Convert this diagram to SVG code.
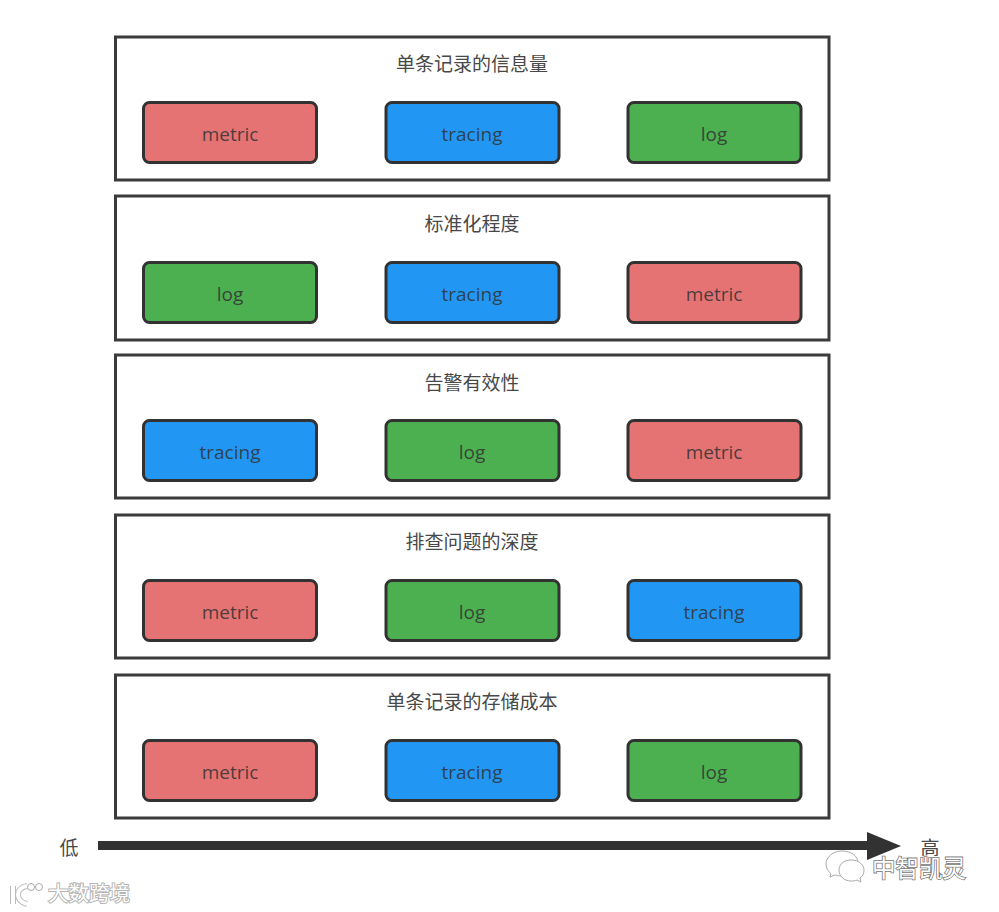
<svg xmlns="http://www.w3.org/2000/svg" width="999" height="912" viewBox="0 0 999 912">
<style>
text{font-family:"Open Sans","Noto Sans CJK SC",sans-serif;text-anchor:middle}
.panel{fill:#fff;stroke:#3b3b3b;stroke-width:3}
.box{stroke:#323232;stroke-width:3}
.m{fill:#e57373}.t{fill:#2196f3}.l{fill:#4caf50}
.lbl{font-size:19px;fill:#323232;fill-opacity:.85}
.ttl{font-family:"Noto Sans CJK SC",sans-serif;font-size:19px;fill:#484848}
.wm{font-family:"Noto Sans CJK SC",sans-serif;fill:#fff;stroke:#b4b4b4;stroke-width:2;paint-order:stroke}
.wr{font-family:"Noto Sans CJK SC",sans-serif;fill:#fff;stroke:#777;stroke-width:1.600;paint-order:stroke}
.wi{fill:#fff;stroke:#aaa;stroke-width:1}
</style>
<defs>
<rect id="b" width="173" height="60" rx="6" ry="6"/>
</defs>
<g id="row1">
<rect class="panel" x="115.500" y="37" width="713.500" height="143"/>
<text class="ttl" x="472" y="71">单条记录的信息量</text>
<g id="row1-metric"><use href="#b" x="143.500" y="102.500" class="box m"/><text class="lbl" x="230" y="141">metric</text></g>
<g id="row1-tracing"><use href="#b" x="386" y="102.500" class="box t"/><text class="lbl" x="472" y="141">tracing</text></g>
<g id="row1-log"><use href="#b" x="628" y="102.500" class="box l"/><text class="lbl" x="714" y="141">log</text></g>
</g>
<g id="row2">
<rect class="panel" x="115.500" y="196" width="713.500" height="144"/>
<text class="ttl" x="472" y="231">标准化程度</text>
<g id="row2-log"><use href="#b" x="143.500" y="262.500" class="box l"/><text class="lbl" x="230" y="301">log</text></g>
<g id="row2-tracing"><use href="#b" x="386" y="262.500" class="box t"/><text class="lbl" x="472" y="301">tracing</text></g>
<g id="row2-metric"><use href="#b" x="628" y="262.500" class="box m"/><text class="lbl" x="714" y="301">metric</text></g>
</g>
<g id="row3">
<rect class="panel" x="115.500" y="355" width="713.500" height="143"/>
<text class="ttl" x="472" y="390">告警有效性</text>
<g id="row3-tracing"><use href="#b" x="143.500" y="420.500" class="box t"/><text class="lbl" x="230" y="459">tracing</text></g>
<g id="row3-log"><use href="#b" x="386" y="420.500" class="box l"/><text class="lbl" x="472" y="459">log</text></g>
<g id="row3-metric"><use href="#b" x="628" y="420.500" class="box m"/><text class="lbl" x="714" y="459">metric</text></g>
</g>
<g id="row4">
<rect class="panel" x="115.500" y="515" width="713.500" height="143"/>
<text class="ttl" x="472" y="549">排查问题的深度</text>
<g id="row4-metric"><use href="#b" x="143.500" y="580.500" class="box m"/><text class="lbl" x="230" y="619">metric</text></g>
<g id="row4-log"><use href="#b" x="386" y="580.500" class="box l"/><text class="lbl" x="472" y="619">log</text></g>
<g id="row4-tracing"><use href="#b" x="628" y="580.500" class="box t"/><text class="lbl" x="714" y="619">tracing</text></g>
</g>
<g id="row5">
<rect class="panel" x="115.500" y="675" width="713.500" height="143"/>
<text class="ttl" x="472" y="709">单条记录的存储成本</text>
<g id="row5-metric"><use href="#b" x="143.500" y="740.500" class="box m"/><text class="lbl" x="230" y="779">metric</text></g>
<g id="row5-tracing"><use href="#b" x="386" y="740.500" class="box t"/><text class="lbl" x="472" y="779">tracing</text></g>
<g id="row5-log"><use href="#b" x="628" y="740.500" class="box l"/><text class="lbl" x="714" y="779">log</text></g>
</g>
<g id="connectors">
<rect x="98" y="841" width="772" height="9" fill="#323232"/>
<polygon points="867,832 901,846 867,860" fill="#323232"/>
</g>
<g id="axis-low"><text class="ttl" x="69" y="855">低</text></g>
<g id="axis-high"><text class="ttl" x="930" y="855">高</text></g>
<g id="watermark-left">
<path d="M13 886V904M27 886C15 888 15 901 27 904" fill="none" stroke="#bbb" stroke-width="6"/>
<path d="M13 886V904M27 886C15 888 15 901 27 904" fill="none" stroke="#fff" stroke-width="4"/>
<circle class="wi" cx="31" cy="887" r="3.500"/><circle class="wi" cx="39" cy="887" r="3.500"/>
<text class="wm" x="89" y="901" font-size="20.500">大数跨境</text>
</g>
<g id="watermark-right">
<path class="wi" d="M842 851C833 851 826 857 826 864C826 868 828 871 831 874L830 877L835 875C838 876 841 876 844 876C854 876 858 869 858 863C858 856 851 851 842 851Z"/>
<path class="wi" d="M851 860C843 860 839 865 839 870C839 876 844 881 851 881C853 881 855 881 857 880L861 882L860 878C863 876 864 873 864 870C864 865 859 860 851 860Z"/>
<text class="wr" x="919" y="877" font-size="23.500">中智凯灵</text>
</g>
</svg>
